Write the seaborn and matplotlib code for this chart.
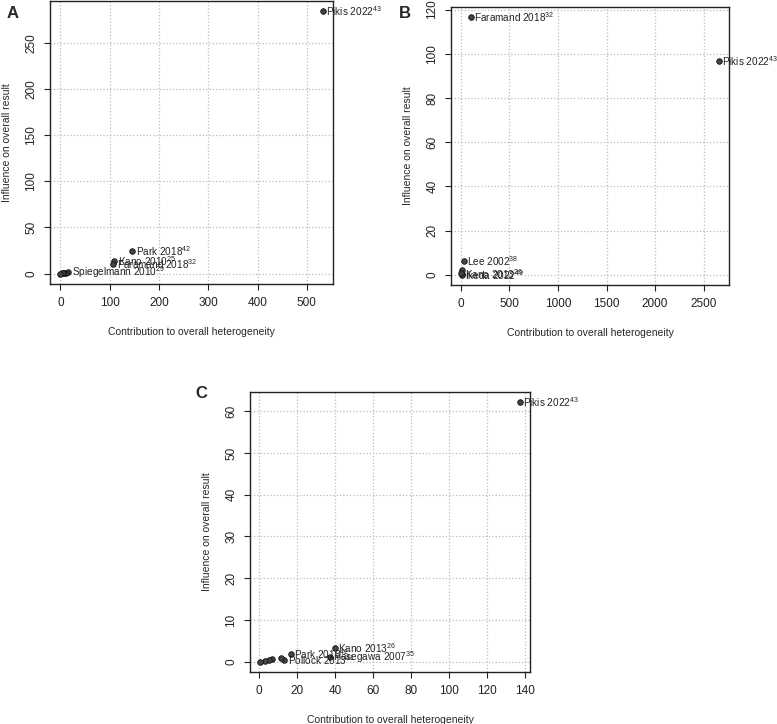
import numpy as np
import pandas as pd
import matplotlib
matplotlib.use("Agg")
import matplotlib.pyplot as plt
import seaborn as sns

sns.set_style("white")
plt.rcParams['font.family'] = ['Liberation Sans', 'DejaVu Sans']
plt.rcParams['mathtext.fontset'] = 'custom'
plt.rcParams['mathtext.rm'] = 'Liberation Sans'
plt.rcParams['mathtext.default'] = 'regular'

# panel A
x_a = [532, 146, 109, 107, 16, 12, 8, 5, 3, 0]
y_a = [284.5, 24.5, 14, 10.5, 1.2, 1.0, 0.6, 0.4, 0.2, 0]
lab_a = ["Pikis 2022$^{43}$", "Park 2018$^{42}$", "Kano 2010$^{25}$", "Faramand 2018$^{32}$",
         "Spiegelmann 2010$^{29}$", "", "", "", "", ""]
xt_a = [0, 100, 200, 300, 400, 500]
yt_a = [0, 50, 100, 150, 200, 250]

# panel B
x_b = [2655, 100, 31, 14, 10, 8, 5]
y_b = [96.5, 116.5, 6.0, 2.1, 0.3, 0.0, 0.8]
lab_b = ["Pikis 2022$^{43}$", "Faramand 2018$^{32}$", "Lee 2002$^{38}$", "",
         "Kano 2013$^{26}$", "Ikeda 2022$^{49}$", ""]
xt_b = [0, 500, 1000, 1500, 2000, 2500]
yt_b = [0, 20, 40, 60, 80, 100, 120]

# panel C
x_c = [137.2, 40, 37.3, 16.6, 13.3, 11.3, 6.9, 5.1, 3.4, 0.7]
y_c = [62.1, 3.3, 1.2, 1.8, 0.4, 0.9, 0.6, 0.3, 0.2, 0.0]
lab_c = ["Pikis 2022$^{43}$", "Kano 2013$^{26}$", "Hasegawa 2007$^{35}$", "Park 2018$^{42}$",
         "Pollock 2013$^{41}$", "", "", "", "", ""]
xt_c = [0, 20, 40, 60, 80, 100, 120, 140]
yt_c = [0, 10, 20, 30, 40, 50, 60]

W, H = 777, 724
fig = plt.figure(figsize=(W / 100, H / 100), dpi=100)


def panel(box, xs, ys, labs, xt, yt, letter, lpos):
    l, t, r, b = box
    ax = fig.add_axes([l / W, 1 - b / H, (r - l) / W, (b - t) / H])
    df = pd.DataFrame({"x": xs, "y": ys})
    sns.scatterplot(data=df, x="x", y="y", ax=ax, color="#444444", edgecolor="#111111",
                    s=16, linewidth=0.6, zorder=3)
    for xi, yi, s in zip(xs, ys, labs):
        if s:
            ax.annotate(s, (xi, yi), xytext=(2.5, 0), textcoords="offset points",
                        ha="left", va="center", fontsize=7.2, color="#222222",
                        annotation_clip=False, zorder=4)
    rx = max(xs) - min(xs)
    ry = max(ys) - min(ys)
    ax.set_xlim(min(xs) - 0.04 * rx, max(xs) + 0.04 * rx)
    ax.set_ylim(min(ys) - 0.04 * ry, max(ys) + 0.04 * ry)
    ax.set_xticks(xt)
    ax.set_yticks(yt)
    ax.set_yticklabels([str(v) for v in yt], rotation=90, va="center")
    ax.grid(True, linestyle=":", color="#bbbbbb", linewidth=0.9)
    ax.set_axisbelow(True)
    for sp in ax.spines.values():
        sp.set_visible(True)
        sp.set_color("#222222")
        sp.set_linewidth(1.0)
    ax.tick_params(direction="out", length=4, width=0.8, colors="#222222",
                   labelsize=8.5, pad=5, bottom=True, left=True)
    ax.set_xlabel("Contribution to overall heterogeneity", fontsize=7.5, labelpad=13)
    ax.set_ylabel("Influence on overall result", fontsize=7.5, labelpad=10)
    fig.text(lpos[0] / W, 1 - lpos[1] / H, letter, fontsize=12, fontweight="bold",
             va="center", ha="center")
    return ax


panel((50, 1, 333, 284), x_a, y_a, lab_a, xt_a, yt_a, "A", (13, 13))
panel((451, 7, 729, 285), x_b, y_b, lab_b, xt_b, yt_b, "B", (405, 13))
panel((250, 392, 530, 672), x_c, y_c, lab_c, xt_c, yt_c, "C", (201, 394))

fig.savefig("out.png", dpi=100, facecolor="white")
